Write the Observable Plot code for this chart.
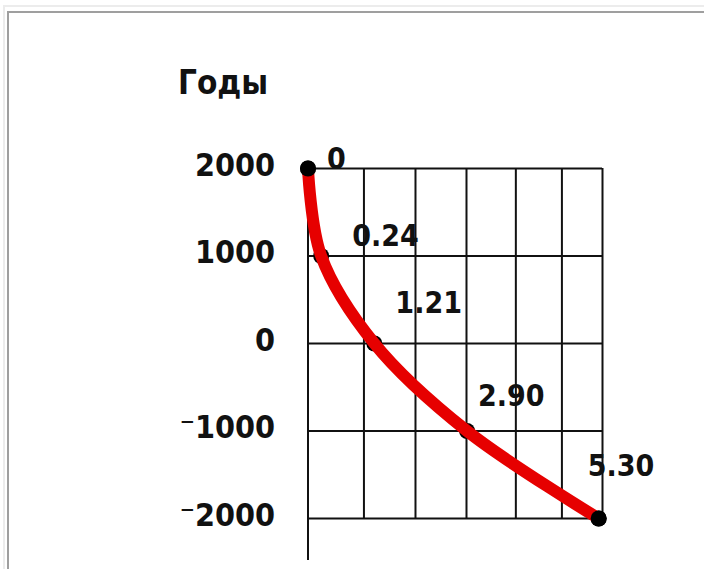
<!DOCTYPE html>
<html>
<head>
<meta charset="utf-8">
<script src="https://cdn.jsdelivr.net/npm/d3@7"></script>
<script src="https://cdn.jsdelivr.net/npm/@observablehq/plot@0.6"></script>
<style>
  html, body { margin: 0; padding: 0; background: #fff; overflow: hidden; }
  body { width: 704px; height: 569px; position: relative; }
  .outer { position: absolute; left: 3px; top: 5px; right: -10px; bottom: -10px; border-top: 2px solid #ececec; border-left: 2px solid #ececec; }
  .inner { position: absolute; left: 7px; top: 11px; right: -10px; bottom: -10px; border-top: 2px solid #9f9f9f; border-left: 2px solid #9f9f9f; }
  #chart { position: absolute; left: 0; top: 0; }
</style>
</head>
<body>
<div class="outer"></div>
<div class="inner"></div>
<div id="chart"></div>
<script>
// Data
const years = [2000, 1000, 0, -1000, -2000];          // "Годы"
const values = [0, 0.24, 1.21, 2.90, 5.30];           // point values
const valueLabels = ["0", "0.24", "1.21", "2.90", "5.30"];
const yTicks = [2000, 1000, 0, -1000, -2000];
const gridX = [1.02, 1.96, 2.89, 3.79, 4.63, 5.37];   // vertical grid lines
const title = "Годы";

const data = years.map((y, i) => ({year: y, value: values[i], label: valueLabels[i]}));

// label placement (style, not data)
const labelDx = [19, 31, 21, 11, -11];
const labelDy = [-9, -20, -40, -35, -52];

const font = "'DejaVu Sans Condensed', 'DejaVu Sans', sans-serif";

const labelMarks = data.map((d, i) => Plot.text([d], {
  x: "value", y: "year", text: "label",
  textAnchor: "start", lineAnchor: "middle",
  dx: labelDx[i], dy: labelDy[i],
  fontSize: 30, fontWeight: "bold", fill: "#111"
}));

const chart = Plot.plot({
  width: 704,
  height: 569,
  marginLeft: 307.5,
  marginRight: 102,
  marginTop: 168,
  marginBottom: 9,
  style: {fontFamily: font, fontWeight: "bold", fontSize: "30px", fontStretch: "condensed", background: "transparent", overflow: "visible"},
  x: {domain: [0, 5.37], axis: null},
  y: {domain: [-2480, 2000]},
  marks: [
    Plot.ruleY(yTicks, {x1: 0, x2: 5.37, stroke: "#111", strokeWidth: 2}),
    Plot.ruleX(gridX, {y1: -2000, y2: 2000, stroke: "#111", strokeWidth: 2}),
    Plot.ruleX([0], {y1: -2480, y2: 2000, stroke: "#111", strokeWidth: 2}),
    Plot.axisY(yTicks, {
      tickSize: 0, tickPadding: 33, dy: -3, label: null,
      tickFormat: d => d < 0 ? "\u207B" + Math.abs(d) : String(d),
      fontSize: 32, fontWeight: "bold", fill: "#111"
    }),
    Plot.dot(data, {x: "value", y: "year", r: 8, fill: "#000"}),
    Plot.line(data, {x: "value", y: "year", stroke: "#e60000", strokeWidth: 12, curve: "catmull-rom", strokeLinecap: "round", strokeLinejoin: "round"}),
    Plot.dot([data[0], data[data.length - 1]], {x: "value", y: "year", r: 8, fill: "#000"}),
    ...labelMarks,
    Plot.text([title], {frameAnchor: "top-left", dx: -130, dy: -85, textAnchor: "start", lineAnchor: "middle", fontSize: 33, fontWeight: "bold", fill: "#111"})
  ]
});
document.getElementById("chart").appendChild(chart);
</script>
</body>
</html>
